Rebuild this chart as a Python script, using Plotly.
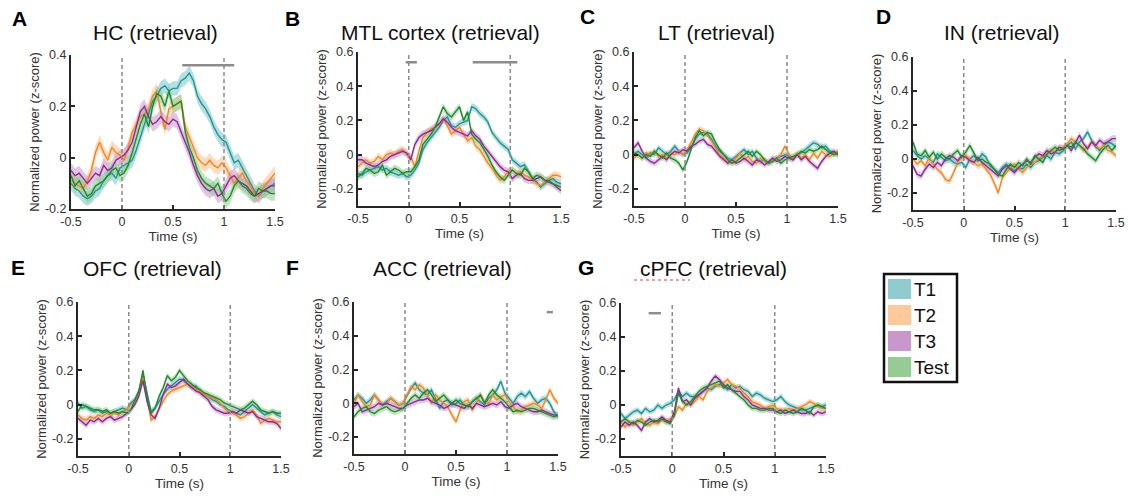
import plotly.graph_objects as go

# ---------------- data ----------------
TIME = [-0.50, -0.46, -0.42, -0.38, -0.34, -0.30, -0.26, -0.22, -0.18, -0.14,
        -0.10, -0.06, -0.02, 0.02, 0.06, 0.10, 0.14, 0.18, 0.22, 0.26,
        0.30, 0.34, 0.38, 0.42, 0.46, 0.50, 0.54, 0.58, 0.62, 0.66,
        0.70, 0.74, 0.78, 0.82, 0.86, 0.90, 0.94, 0.98, 1.02, 1.06,
        1.10, 1.14, 1.18, 1.22, 1.26, 1.30, 1.34, 1.38, 1.42, 1.46, 1.50]

SERIES = ["T1", "T2", "T3", "Test"]

# A: HC
HC_T1 = [-0.10, -0.12, -0.13, -0.15, -0.16, -0.15, -0.13, -0.12, -0.09, -0.07,
         -0.06, -0.08, -0.04, -0.03, -0.02, -0.01, 0.03, 0.08, 0.13, 0.17,
         0.22, 0.24, 0.27, 0.28, 0.26, 0.27, 0.27, 0.30, 0.31, 0.33,
         0.30, 0.24, 0.21, 0.19, 0.16, 0.12, 0.09, 0.07, 0.06, 0.02,
         -0.02, -0.01, -0.04, -0.07, -0.10, -0.13, -0.15, -0.13, -0.12, -0.11, -0.10]
HC_T2 = [-0.09, -0.10, -0.11, -0.12, -0.09, -0.05, 0.02, 0.06, 0.02, -0.01,
         0.04, 0.02, 0.01, -0.01, 0.04, 0.10, 0.13, 0.16, 0.17, 0.19,
         0.24, 0.26, 0.18, 0.11, 0.19, 0.20, 0.21, 0.22, 0.12, 0.08,
         0.04, 0.00, -0.02, -0.03, -0.01, -0.03, -0.04, -0.02, -0.04, -0.07,
         -0.10, -0.08, -0.06, -0.09, -0.11, -0.14, -0.15, -0.12, -0.10, -0.08, -0.06]
HC_T3 = [-0.05, -0.07, -0.06, -0.08, -0.10, -0.08, -0.06, -0.07, -0.03, -0.05,
         -0.04, -0.01, 0.00, 0.01, 0.03, 0.06, 0.12, 0.18, 0.20, 0.16,
         0.13, 0.14, 0.16, 0.14, 0.13, 0.15, 0.14, 0.10, 0.06, 0.02,
         -0.03, -0.07, -0.10, -0.12, -0.13, -0.12, -0.15, -0.14, -0.11, -0.08,
         -0.07, -0.09, -0.10, -0.11, -0.13, -0.15, -0.14, -0.13, -0.12, -0.11, -0.11]
HC_TEST = [-0.07, -0.11, -0.09, -0.12, -0.15, -0.14, -0.11, -0.10, -0.09, -0.07,
           -0.05, -0.04, -0.07, -0.06, -0.03, 0.02, 0.08, 0.13, 0.17, 0.12,
           0.20, 0.25, 0.24, 0.20, 0.26, 0.20, 0.21, 0.22, 0.10, 0.04,
           0.00, -0.05, -0.08, -0.10, -0.11, -0.12, -0.10, -0.14, -0.17, -0.15,
           -0.11, -0.09, -0.11, -0.12, -0.14, -0.15, -0.12, -0.13, -0.13, -0.14, -0.14]

# B: MTL cortex
MTL_T1 = [-0.11, -0.12, -0.10, -0.09, -0.08, -0.07, -0.09, -0.08, -0.10, -0.11,
          -0.12, -0.11, -0.13, -0.12, -0.09, -0.05, 0.03, 0.07, 0.10, 0.13,
          0.16, 0.20, 0.22, 0.17, 0.16, 0.18, 0.19, 0.20, 0.28, 0.27,
          0.24, 0.22, 0.19, 0.13, 0.10, 0.07, 0.05, 0.03, -0.03, -0.05,
          -0.07, -0.06, -0.10, -0.14, -0.16, -0.19, -0.17, -0.15, -0.14, -0.16, -0.17]
MTL_T2 = [-0.07, -0.05, -0.03, -0.05, -0.04, -0.01, -0.03, 0.00, 0.01, 0.00,
          0.02, 0.03, 0.00, -0.01, -0.07, 0.02, 0.10, 0.13, 0.15, 0.16,
          0.18, 0.21, 0.17, 0.12, 0.14, 0.16, 0.12, 0.08, 0.10, 0.05,
          0.03, -0.01, -0.05, -0.08, -0.12, -0.15, -0.13, -0.10, -0.09, -0.11,
          -0.10, -0.12, -0.13, -0.15, -0.17, -0.18, -0.16, -0.14, -0.12, -0.12, -0.13]
MTL_T3 = [-0.03, -0.03, -0.05, -0.06, -0.07, -0.06, -0.04, -0.03, -0.01, 0.00,
          0.01, 0.02, 0.01, -0.03, 0.06, 0.10, 0.12, 0.13, 0.14, 0.16,
          0.18, 0.21, 0.19, 0.16, 0.14, 0.13, 0.12, 0.11, 0.14, 0.11,
          0.09, 0.05, 0.02, -0.01, -0.04, -0.07, -0.09, -0.10, -0.14, -0.12,
          -0.11, -0.14, -0.15, -0.15, -0.14, -0.13, -0.15, -0.16, -0.17, -0.19, -0.21]
MTL_TEST = [-0.13, -0.11, -0.08, -0.09, -0.11, -0.10, -0.06, -0.12, -0.10, -0.08,
            -0.09, -0.11, -0.10, -0.10, -0.07, -0.03, 0.06, 0.09, 0.12, 0.16,
            0.22, 0.28, 0.24, 0.22, 0.25, 0.28, 0.20, 0.25, 0.12, 0.09,
            0.07, 0.03, -0.01, -0.06, -0.10, -0.13, -0.15, -0.12, -0.09, -0.11,
            -0.12, -0.08, -0.10, -0.14, -0.12, -0.13, -0.15, -0.15, -0.17, -0.18, -0.19]

# C: LT
LT_T1 = [0.00, 0.02, 0.00, -0.02, 0.01, 0.00, 0.04, 0.02, 0.00, 0.02,
         0.05, 0.02, 0.00, 0.01, 0.04, 0.09, 0.12, 0.13, 0.12, 0.09,
         0.05, 0.02, 0.00, -0.02, -0.03, -0.01, 0.01, 0.03, 0.00, 0.02,
         -0.02, -0.04, -0.03, -0.05, -0.03, -0.02, -0.01, 0.00, -0.01, -0.02,
         0.00, 0.01, 0.03, 0.05, 0.07, 0.06, 0.04, 0.05, 0.02, 0.01, 0.00]
LT_T2 = [-0.02, 0.00, -0.02, 0.01, 0.00, 0.02, -0.01, 0.00, -0.02, 0.01,
         0.00, 0.02, 0.00, 0.03, 0.07, 0.12, 0.15, 0.14, 0.11, 0.08,
         0.04, 0.00, -0.02, -0.04, -0.05, -0.02, 0.01, -0.03, -0.01, -0.04,
         -0.05, -0.02, -0.04, -0.05, -0.03, -0.02, 0.00, 0.05, 0.00, -0.02,
         0.01, -0.02, 0.00, -0.03, 0.01, -0.02, 0.02, 0.00, -0.01, 0.01, 0.02]
LT_T3 = [0.04, 0.07, 0.02, -0.02, -0.04, -0.05, -0.03, -0.01, -0.03, 0.00,
         0.02, 0.01, 0.03, 0.02, 0.05, 0.06, 0.08, 0.09, 0.06, 0.05,
         0.02, -0.01, -0.03, -0.05, -0.03, -0.05, -0.04, -0.02, -0.04, -0.06,
         -0.03, -0.04, -0.06, -0.04, -0.02, -0.04, -0.03, -0.01, -0.02, -0.03,
         0.00, -0.03, -0.01, -0.04, -0.06, -0.08, -0.04, -0.01, 0.01, 0.02, 0.00]
LT_TEST = [0.01, 0.00, -0.02, 0.00, -0.01, 0.02, 0.00, -0.02, 0.01, -0.02,
           -0.03, -0.05, -0.09, -0.04, 0.03, 0.10, 0.14, 0.11, 0.13, 0.12,
           0.07, 0.03, 0.00, -0.03, -0.05, -0.04, -0.02, 0.00, 0.02, -0.01,
           0.02, 0.00, -0.03, -0.05, -0.04, -0.02, -0.05, -0.03, -0.02, -0.01,
           0.00, 0.02, 0.01, 0.03, 0.02, 0.03, 0.05, 0.03, 0.01, 0.00, 0.01]

# D: IN
IN_T1 = [0.05, 0.02, 0.00, 0.02, 0.00, -0.02, 0.03, 0.01, -0.01, 0.00,
         -0.02, -0.03, -0.02, -0.05, 0.00, 0.02, -0.01, 0.03, 0.01, -0.04,
         -0.06, -0.08, -0.05, -0.03, -0.05, -0.07, -0.05, -0.06, -0.03, -0.05,
         -0.02, -0.01, 0.01, 0.02, 0.00, 0.04, 0.03, 0.05, 0.08, 0.10,
         0.06, 0.10, 0.12, 0.16, 0.11, 0.07, 0.05, 0.08, 0.10, 0.09, 0.07]
IN_T2 = [0.00, -0.03, -0.01, -0.04, 0.01, -0.03, -0.06, -0.08, -0.12, -0.13,
         -0.08, -0.02, 0.01, 0.02, 0.00, -0.02, -0.04, -0.03, -0.06, -0.09,
         -0.14, -0.20, -0.11, -0.08, -0.05, -0.03, -0.06, -0.08, -0.05, -0.03,
         -0.02, 0.00, 0.02, 0.03, 0.05, 0.04, 0.06, 0.07, 0.09, 0.12,
         0.10, 0.08, 0.05, 0.07, 0.10, 0.08, 0.06, 0.08, 0.05, 0.04, 0.02]
IN_T3 = [-0.04, -0.09, -0.10, -0.06, -0.03, -0.05, -0.02, -0.04, 0.00, 0.02,
         0.01, -0.01, 0.02, 0.01, -0.01, -0.02, 0.01, -0.02, -0.04, -0.06,
         -0.08, -0.10, -0.06, -0.04, -0.06, -0.08, -0.05, -0.03, -0.01, -0.02,
         0.01, 0.03, 0.02, 0.05, 0.03, 0.04, 0.07, 0.06, 0.08, 0.05,
         0.10, 0.14, 0.09, 0.06, 0.10, 0.08, 0.11, 0.09, 0.10, 0.12, 0.12]
IN_TEST = [0.10, 0.03, 0.02, 0.05, 0.01, 0.04, 0.00, 0.03, 0.01, 0.00,
           0.03, 0.05, 0.01, 0.04, 0.08, 0.03, -0.01, 0.00, -0.02, -0.03,
           -0.06, -0.09, -0.10, -0.06, -0.03, -0.05, -0.02, -0.04, 0.00, -0.03,
           0.02, 0.00, -0.02, 0.03, 0.05, 0.07, 0.05, 0.06, 0.08, 0.07,
           0.10, 0.08, 0.06, 0.03, 0.01, -0.01, 0.03, 0.06, 0.08, 0.05, 0.08]

# E: OFC
OFC_T1 = [0.01, -0.02, -0.01, -0.03, -0.04, -0.03, -0.05, -0.04, -0.05, -0.04,
          -0.03, -0.02, -0.03, 0.01, 0.03, 0.08, 0.18, 0.06, -0.04, -0.02,
          0.02, 0.06, 0.09, 0.11, 0.13, 0.15, 0.14, 0.12, 0.10, 0.11,
          0.08, 0.06, 0.05, 0.03, 0.02, 0.00, -0.01, -0.03, -0.04, -0.05,
          -0.06, -0.04, -0.02, 0.00, -0.02, -0.04, -0.06, -0.05, -0.04, -0.06, -0.07]
OFC_T2 = [-0.06, -0.08, -0.09, -0.07, -0.08, -0.06, -0.07, -0.05, -0.06, -0.05,
          -0.06, -0.04, -0.03, 0.00, 0.02, 0.06, 0.16, 0.03, -0.09, -0.07,
          -0.02, 0.02, 0.06, 0.08, 0.09, 0.10, 0.11, 0.12, 0.11, 0.09,
          0.08, 0.06, 0.05, 0.04, 0.03, 0.01, -0.02, -0.04, -0.05, -0.06,
          -0.08, -0.07, -0.05, -0.03, -0.06, -0.11, -0.09, -0.08, -0.09, -0.10, -0.10]
OFC_T3 = [-0.08, -0.10, -0.12, -0.09, -0.10, -0.08, -0.10, -0.08, -0.07, -0.09,
          -0.08, -0.07, -0.05, -0.03, 0.00, 0.05, 0.14, 0.02, -0.06, -0.08,
          -0.02, 0.06, 0.12, 0.10, 0.11, 0.13, 0.15, 0.12, 0.10, 0.08,
          0.07, 0.05, 0.03, -0.01, -0.03, -0.04, -0.05, -0.05, -0.04, -0.05,
          -0.03, -0.04, -0.05, -0.04, -0.07, -0.08, -0.09, -0.10, -0.10, -0.11, -0.14]
OFC_TEST = [-0.04, 0.00, -0.01, -0.02, -0.03, -0.03, -0.04, -0.03, -0.05, -0.04,
            -0.05, -0.04, -0.05, -0.03, 0.02, 0.08, 0.20, 0.05, -0.05, -0.02,
            0.05, 0.10, 0.17, 0.14, 0.16, 0.20, 0.17, 0.14, 0.12, 0.10,
            0.09, 0.07, 0.06, 0.05, 0.04, 0.03, 0.01, 0.00, -0.01, -0.02,
            -0.03, -0.02, 0.00, 0.02, 0.00, -0.03, -0.04, -0.05, -0.04, -0.05, -0.05]

# F: ACC
ACC_T1 = [0.02, 0.05, 0.03, 0.00, 0.02, 0.05, 0.02, -0.01, 0.01, 0.03,
          0.01, -0.01, 0.00, 0.05, 0.09, 0.12, 0.08, 0.06, 0.05, 0.08,
          0.03, -0.03, 0.01, 0.02, -0.01, 0.00, 0.02, -0.01, -0.02, 0.01,
          0.03, 0.01, -0.01, 0.03, 0.05, 0.08, 0.13, 0.06, 0.03, 0.00,
          0.04, 0.06, 0.04, 0.07, 0.03, 0.00, 0.02, 0.03, 0.00, -0.05, -0.08]
ACC_T2 = [0.00, 0.05, 0.01, -0.02, -0.01, 0.05, 0.02, -0.01, 0.00, 0.03,
          0.01, -0.01, 0.00, 0.05, 0.10, 0.08, 0.11, 0.09, 0.05, 0.00,
          0.05, 0.02, 0.00, -0.02, -0.07, -0.11, -0.04, 0.01, 0.02, -0.04,
          0.00, 0.05, 0.01, 0.00, 0.05, 0.02, 0.04, 0.05, 0.01, -0.02,
          -0.05, -0.04, -0.02, -0.01, 0.00, -0.01, -0.03, 0.02, 0.08, 0.03, 0.00]
ACC_T3 = [-0.02, 0.00, -0.05, -0.04, -0.03, -0.02, 0.00, -0.01, 0.00, -0.01,
          -0.02, -0.03, -0.03, -0.01, 0.00, 0.01, 0.02, 0.02, 0.03, 0.01,
          0.00, -0.01, -0.03, -0.02, 0.00, -0.01, -0.02, -0.03, -0.01, -0.03,
          0.00, -0.01, -0.02, -0.01, 0.00, -0.01, 0.01, -0.02, -0.03, -0.01,
          0.00, -0.02, -0.03, -0.04, -0.05, -0.05, -0.04, -0.05, -0.06, -0.07, -0.07]
ACC_TEST = [-0.08, -0.05, -0.03, -0.02, -0.05, -0.06, -0.04, -0.03, -0.02, -0.04,
            -0.05, -0.04, -0.03, 0.00, 0.03, 0.05, 0.03, 0.06, 0.08, 0.05,
            0.01, 0.03, 0.05, 0.02, 0.00, 0.02, 0.00, -0.01, -0.02, 0.01,
            0.03, 0.05, 0.00, 0.05, 0.08, 0.05, 0.03, 0.01, -0.02, -0.05,
            -0.04, -0.05, -0.04, -0.03, -0.03, -0.04, -0.05, -0.06, -0.07, -0.08, -0.07]

# G: cPFC
CPFC_T1 = [-0.05, -0.08, -0.06, -0.04, -0.03, -0.05, -0.02, -0.04, -0.03, 0.00,
           -0.02, 0.00, 0.01, 0.03, 0.08, 0.05, 0.07, 0.05, 0.05, 0.06,
           0.08, 0.10, 0.09, 0.11, 0.12, 0.11, 0.09, 0.12, 0.10, 0.11,
           0.09, 0.08, 0.05, 0.07, 0.06, 0.04, 0.03, 0.02, 0.03, 0.05,
           0.02, 0.00, -0.01, -0.02, -0.03, -0.03, -0.02, -0.01, 0.00, -0.01, 0.00]
CPFC_T2 = [-0.10, -0.13, -0.10, -0.12, -0.10, -0.08, -0.11, -0.12, -0.10, -0.11,
           -0.09, -0.10, -0.08, -0.07, -0.01, -0.03, 0.01, 0.00, 0.02, 0.05,
           0.03, 0.08, 0.10, 0.12, 0.11, 0.13, 0.15, 0.12, 0.11, 0.10,
           0.07, 0.05, 0.02, 0.01, 0.00, -0.02, -0.01, 0.00, -0.02, -0.03,
           -0.03, -0.02, -0.03, -0.02, -0.01, 0.00, 0.02, 0.01, -0.01, -0.02, -0.02]
CPFC_T3 = [-0.13, -0.10, -0.12, -0.10, -0.12, -0.15, -0.10, -0.08, -0.10, -0.09,
           -0.07, -0.09, -0.10, -0.04, 0.10, 0.02, 0.03, 0.00, 0.04, 0.06,
           0.08, 0.10, 0.14, 0.17, 0.15, 0.12, 0.10, 0.09, 0.08, 0.08,
           0.05, 0.03, 0.00, -0.01, -0.02, -0.02, -0.03, -0.03, -0.04, -0.03,
           -0.05, -0.04, -0.03, -0.04, -0.05, -0.05, -0.04, -0.06, -0.04, -0.05, -0.04]
CPFC_TEST = [-0.10, -0.08, -0.10, -0.11, -0.09, -0.10, -0.12, -0.10, -0.09, -0.10,
             -0.08, -0.10, -0.11, -0.06, 0.07, 0.02, 0.00, 0.02, 0.05, 0.08,
             0.10, 0.11, 0.12, 0.13, 0.14, 0.10, 0.12, 0.09, 0.07, 0.05,
             0.03, 0.00, -0.02, -0.02, -0.03, -0.03, -0.02, -0.02, -0.04, -0.05,
             -0.03, -0.04, -0.05, -0.04, -0.02, -0.03, -0.05, -0.01, 0.00, -0.01, -0.02]

# standard error (shaded band half-width) per panel
SEM = {"A": 0.028, "B": 0.022, "C": 0.018, "D": 0.02, "E": 0.018, "F": 0.02, "G": 0.017}

# significance bars: (start time, end time, level)
SIG = {
    "A": [(0.59, 1.10, 0.36)],
    "B": [(-0.03, 0.08, 0.54), (0.63, 1.07, 0.54)],
    "C": [], "D": [], "E": [],
    "F": [(1.39, 1.45, 0.54)],
    "G": [(-0.23, -0.11, 0.54)],
}

PANELS = [
    ("A", "HC (retrieval)", [HC_T1, HC_T2, HC_T3, HC_TEST], [-0.2, 0.4], [-0.2, 0, 0.2, 0.4]),
    ("B", "MTL cortex (retrieval)", [MTL_T1, MTL_T2, MTL_T3, MTL_TEST], [-0.3, 0.6], [-0.2, 0, 0.2, 0.4, 0.6]),
    ("C", "LT (retrieval)", [LT_T1, LT_T2, LT_T3, LT_TEST], [-0.3, 0.6], [-0.2, 0, 0.2, 0.4, 0.6]),
    ("D", "IN (retrieval)", [IN_T1, IN_T2, IN_T3, IN_TEST], [-0.3, 0.6], [-0.2, 0, 0.2, 0.4, 0.6]),
    ("E", "OFC (retrieval)", [OFC_T1, OFC_T2, OFC_T3, OFC_TEST], [-0.3, 0.6], [-0.2, 0, 0.2, 0.4, 0.6]),
    ("F", "ACC (retrieval)", [ACC_T1, ACC_T2, ACC_T3, ACC_TEST], [-0.3, 0.6], [-0.2, 0, 0.2, 0.4, 0.6]),
    ("G", "cPFC (retrieval)", [CPFC_T1, CPFC_T2, CPFC_T3, CPFC_TEST], [-0.3, 0.6], [-0.2, 0, 0.2, 0.4, 0.6]),
]
X_TICKS = [-0.5, 0, 0.5, 1, 1.5]
X_TICKTEXT = ["-0.5", "0", "0.5", "1", "1.5"]
EVENT_TIMES = [0, 1]

# ---------------- style ----------------
W, H = 1128, 498
FONT = "Liberation Sans, Arial, sans-serif"
LINE_COLORS = ["#1f9696", "#f2871e", "#8f2a94", "#1e8a2c"]
BAND_COLORS = ["rgba(120,196,202,0.55)", "rgba(253,196,148,0.6)",
               "rgba(200,150,205,0.55)", "rgba(140,204,140,0.55)"]
SWATCH_COLORS = ["#8fcbd0", "#fdc99a", "#c898cc", "#94cc94"]

# plot boxes in pixels: (left, right, top, bottom)
BOXES = {
    "A": (71, 275, 55, 209),
    "B": (358, 561, 52, 206),
    "C": (634, 838, 52, 206),
    "D": (913, 1116, 57, 210),
    "E": (78, 281, 302, 456),
    "F": (354, 558, 302, 454),
    "G": (621, 826, 303, 456),
}
TITLE_POS = {"A": (155, 32), "B": (440, 32), "C": (716, 32), "D": (1002, 32),
             "E": (152, 268), "F": (442, 268), "G": (713, 268)}
LETTER_POS = {"A": (19, 18), "B": (292, 18), "C": (587, 17), "D": (883, 17),
              "E": (18, 267), "F": (292, 267), "G": (586, 267)}


def px(x):
    return x / W


def py(y):
    return 1 - y / H


fig = go.Figure()
annotations = []
shapes = []

for i, (key, title, series, yrange, yticks) in enumerate(PANELS):
    n = i + 1
    xa = "x" if n == 1 else f"x{n}"
    ya = "y" if n == 1 else f"y{n}"
    sem = SEM[key]
    for s, vals in enumerate(series):
        upper = [v + sem for v in vals]
        lower = [v - sem for v in vals]
        fig.add_trace(go.Scatter(
            x=TIME + TIME[::-1], y=upper + lower[::-1], fill="toself",
            fillcolor=BAND_COLORS[s], line=dict(width=0), mode="lines",
            hoverinfo="skip", showlegend=False, xaxis=xa, yaxis=ya))
    for s, vals in enumerate(series):
        fig.add_trace(go.Scatter(
            x=TIME, y=vals, mode="lines", name=SERIES[s],
            line=dict(color=LINE_COLORS[s], width=1.4),
            showlegend=False, xaxis=xa, yaxis=ya))
    l, r, t, b = BOXES[key]
    axx = dict(domain=[px(l), px(r)], range=[-0.5, 1.5], anchor=ya, automargin=False,
               tickvals=X_TICKS, ticktext=X_TICKTEXT, ticks="inside", ticklen=4,
               tickwidth=1.5, tickcolor="#262626", showline=True, linecolor="#262626",
               linewidth=2, showgrid=False, zeroline=False,
               tickfont=dict(family=FONT, size=12.5, color="#333333"),
               title=dict(text="Time (s)", standoff=2,
                          font=dict(family=FONT, size=13.5, color="#333333")))
    axy = dict(domain=[py(b), py(t)], range=yrange, anchor=xa, automargin=False,
               tickvals=yticks, ticktext=[f"{v:g}" for v in yticks],
               ticks="inside", ticklen=4, tickwidth=1.5, tickcolor="#262626",
               showline=True, linecolor="#262626", linewidth=2, showgrid=False,
               zeroline=False, tickfont=dict(family=FONT, size=12.5, color="#333333"),
               title=dict(text="Normalized power (z-score)", standoff=2,
                          font=dict(family=FONT, size=13, color="#333333")))
    fig.update_layout(**{("xaxis" if n == 1 else f"xaxis{n}"): axx,
                         ("yaxis" if n == 1 else f"yaxis{n}"): axy})
    for et in EVENT_TIMES:
        shapes.append(dict(type="line", xref=xa, yref=f"{ya} domain", x0=et, x1=et,
                           y0=0, y1=1, line=dict(color="#8a8a8a", width=1.5, dash="4px,3px")))
    for (s0, s1, lvl) in SIG[key]:
        shapes.append(dict(type="line", xref=xa, yref=ya, x0=s0, x1=s1, y0=lvl, y1=lvl,
                           line=dict(color="#8c8c8c", width=2.5)))
    tx, ty = TITLE_POS[key]
    annotations.append(dict(text=title, x=px(tx), y=py(ty), xref="paper", yref="paper",
                            xanchor="center", yanchor="middle", showarrow=False,
                            font=dict(family=FONT, size=21, color="#111111")))
    lx, ly = LETTER_POS[key]
    annotations.append(dict(text=f"<b>{key}</b>", x=px(lx), y=py(ly), xref="paper",
                            yref="paper", xanchor="center", yanchor="middle",
                            showarrow=False, font=dict(family=FONT, size=21, color="#000000")))

# spell-check style underline under "cPFC"
shapes.append(dict(type="line", xref="paper", yref="paper", x0=px(634), x1=px(690),
                   y0=py(280), y1=py(280), line=dict(color="#e04040", width=1, dash="dot")))

# legend box
shapes.append(dict(type="rect", xref="paper", yref="paper", x0=px(884), x1=px(957),
                   y0=py(382), y1=py(274), line=dict(color="#111111", width=2.5),
                   fillcolor="white"))
ROW_Y = [289, 315, 341, 367]
for s, name in enumerate(SERIES):
    cy = ROW_Y[s]
    shapes.append(dict(type="rect", xref="paper", yref="paper", x0=px(888), x1=px(911),
                       y0=py(cy + 10), y1=py(cy - 10), line=dict(width=0),
                       fillcolor=SWATCH_COLORS[s]))
    annotations.append(dict(text=name, x=px(912), y=py(cy), xref="paper", yref="paper",
                            xanchor="left", yanchor="middle", showarrow=False,
                            font=dict(family=FONT, size=19, color="#111111")))

fig.update_layout(width=W, height=H, margin=dict(l=0, r=0, t=0, b=0),
                  paper_bgcolor="white", plot_bgcolor="white",
                  shapes=shapes, annotations=annotations, showlegend=False)

fig.write_html("out.html")
